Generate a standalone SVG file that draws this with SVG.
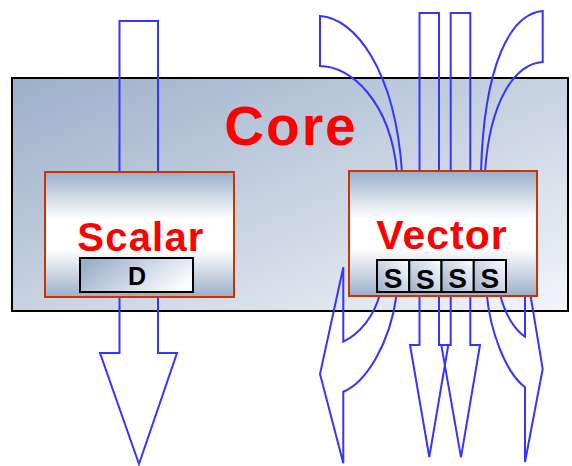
<svg xmlns="http://www.w3.org/2000/svg" width="572" height="466" viewBox="0 0 572 466">
<defs>
<linearGradient id="gCore" x1="0" y1="0" x2="1" y2="1">
<stop offset="0" stop-color="#9bafca"/>
<stop offset="1" stop-color="#f3f5f8"/>
</linearGradient>
<linearGradient id="gUnit" x1="0" y1="0" x2="0" y2="1">
<stop offset="0" stop-color="#9bafca"/>
<stop offset="0.38" stop-color="#ffffff"/>
<stop offset="0.62" stop-color="#ffffff"/>
<stop offset="1" stop-color="#9bafca"/>
</linearGradient>
<linearGradient id="gReg" x1="0" y1="1" x2="1" y2="0">
<stop offset="0" stop-color="#9bafca"/>
<stop offset="1" stop-color="#ffffff"/>
</linearGradient>
<linearGradient id="gD" x1="0" y1="0.3" x2="1" y2="0.7">
<stop offset="0" stop-color="#9bafca"/>
<stop offset="1" stop-color="#ffffff"/>
</linearGradient>
</defs>
<style>
.flow{fill:none;stroke:#3535ff;stroke-width:2;stroke-linejoin:miter}
.unit{fill:url(#gUnit);stroke:#cc3300;stroke-width:2}
.reg{fill:url(#gReg);stroke:#000;stroke-width:2}
.big{font-family:"Liberation Sans",Arial,sans-serif;font-weight:bold;fill:#ff0000;text-anchor:middle}
.lbl{font-family:"Liberation Sans",Arial,sans-serif;font-weight:bold;fill:#000;text-anchor:middle}
</style>
<g id="core">
<rect x="12" y="78" width="556" height="233" fill="url(#gCore)" stroke="#000" stroke-width="2"/>
<text class="big" x="291" y="145" font-size="55" letter-spacing="2">Core</text>
</g>
<g id="connectors">
<polygon class="flow" points="119.5,21 158,21 158,353 177,353 139,464 100,353 119.5,353"/>
<path class="flow" d="M397,172 C390,100 350,66 320,66 L320,16 C355,18 395,70 402,172"/>
<path class="flow" d="M481,172 C484,65 510,14 542.7,11 L542.7,62 C515,64 490,100 485,172"/>
<polygon class="flow" points="419.5,13 439,13 439,345 448.3,345 429.3,457 410,345 419.5,345"/>
<polygon class="flow" points="450.7,13 470.3,13 470.3,345 480,345 461,457.3 441.3,345 450.7,345"/>
<path class="flow" d="M380,294 C374,316 360,334 343.3,341.7 L343.3,267.3 L320,374 L343.3,463.3 L343.3,391.7 C365,383 390,345 396.7,294"/>
<path class="flow" d="M500,294 C505,315 515,330 525,336.7 L525,262 L542.7,369 L525,462 L525,387.3 C505,372 490,330 486.7,294"/>
</g>
<g id="scalar">
<rect class="unit" x="45" y="172" width="189" height="125"/>
<text class="big" x="141" y="251" font-size="40" letter-spacing="1.2">Scalar</text>
<rect class="reg" x="80" y="258" width="113" height="34" style="fill:url(#gD)"/>
<text class="lbl" x="137" y="285" font-size="25">D</text>
</g>
<g id="vector">
<rect class="unit" x="349" y="171" width="188" height="125"/>
<text class="big" x="442" y="249" font-size="41" letter-spacing="1">Vector</text>
<rect class="reg" x="377" y="260" width="32.25" height="32"/>
<rect class="reg" x="409.25" y="260" width="32.25" height="32"/>
<rect class="reg" x="441.5" y="260" width="32.25" height="32"/>
<rect class="reg" x="473.75" y="260" width="32.25" height="32"/>
<text class="lbl" x="393" y="288" font-size="28">S</text>
<text class="lbl" x="425.4" y="289" font-size="28">S</text>
<text class="lbl" x="457.6" y="288" font-size="28">S</text>
<text class="lbl" x="489.9" y="288" font-size="28">S</text>
</g>
</svg>
